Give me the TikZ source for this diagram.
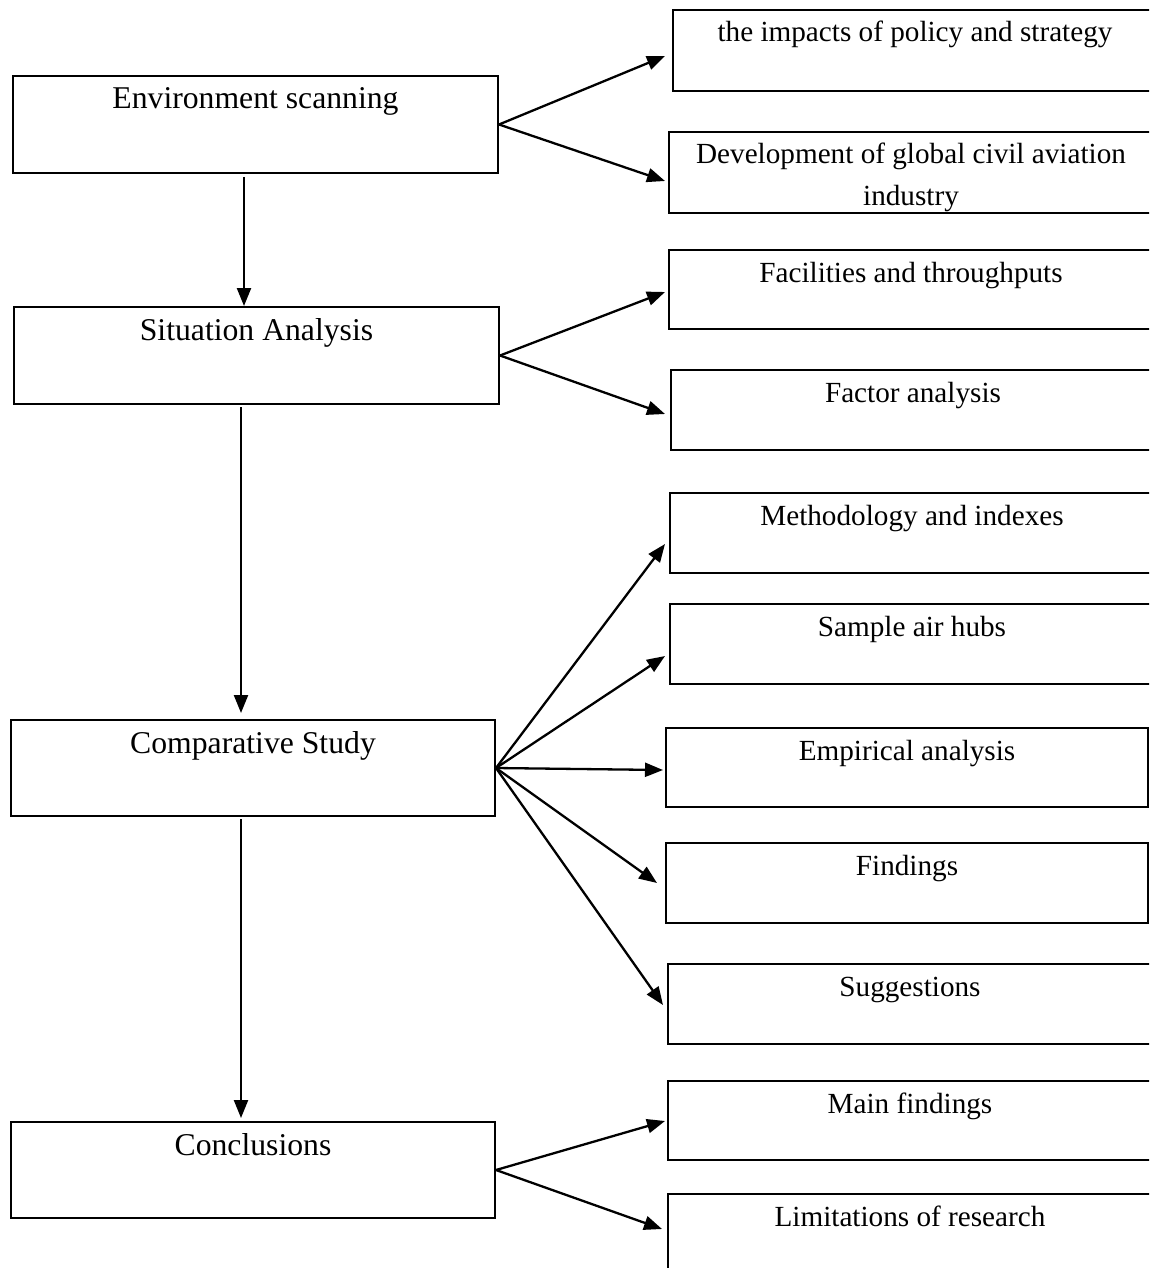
\documentclass[tikz,border=0pt]{standalone}
\usepackage{fontspec}
\setmainfont{Liberation Serif}
\usetikzlibrary{arrows.meta,calc}
\begin{document}
\begin{tikzpicture}[x=1pt,y=-1pt,
  lbox/.style={draw, line width=2pt, inner sep=0pt, anchor=north west,
    minimum width=485pt, text height=33pt, text depth=64pt,
    font=\fontsize{31.7}{38}\selectfont},
  rbox/.style={draw, line width=2pt, inner sep=0pt, anchor=north west,
    minimum width=484pt, text height=32pt, text depth=48pt,
    font=\fontsize{29.2}{42}\selectfont},
  arr/.style={line width=2.3pt, -{Triangle[length=18pt,width=14pt]}}]
\useasboundingbox (0,0) rectangle (1149,1268);
\clip (0,0) rectangle (1149,1268);
\fill[white] (0,0) rectangle (1149,1268);

% left column
\node[lbox] (env) at (12,75) {Environment scanning};
\node[lbox] (sit) at (13,306) {Situation Analysis};
\node[lbox, minimum width=484pt, text depth=63pt] (comp) at (10,719) {Comparative Study};
\node[lbox, minimum width=484pt, text depth=63pt] (conc) at (10,1121) {Conclusions};

% right column
\node[rbox, text depth=49pt] (imp) at (672,9) {the impacts of policy and strategy};
\node[rbox, text depth=49pt] (dev) at (668,131)
  {\parbox[t]{470pt}{\centering\fontsize{29.2}{42}\selectfont Development of global civil aviation\\industry}};
\node[rbox, text depth=47pt] (fac) at (668,249) {Facilities and throughputs};
\node[rbox] (fan) at (670,369) {Factor analysis};
\node[rbox] (meth) at (669,492) {Methodology and indexes};
\node[rbox] (samp) at (669,603) {Sample air hubs};
\node[rbox, minimum width=482pt, text depth=47pt] (emp) at (665,727) {Empirical analysis};
\node[rbox, minimum width=482pt] (find) at (665,842) {Findings};
\node[rbox] (sug) at (667,963) {Suggestions};
\node[rbox, text depth=47pt] (main) at (667,1080) {Main findings};
\node[rbox, text depth=68pt] (lim) at (667,1193) {Limitations of research};

% vertical connectors
\coordinate (v1) at ([xshift=-11.5pt]env.south);
\coordinate (v2) at ([xshift=-15.5pt]sit.south);
\coordinate (v3) at ([xshift=-12pt]comp.south);
\draw[arr, shorten <=3pt] (v1) -- (v1 |- sit.north);
\draw[arr, shorten <=2pt, shorten >=6pt] (v2) -- (v2 |- comp.north);
\draw[arr, shorten <=2pt, shorten >=3pt] (v3) -- (v3 |- conc.north);

% fan connectors
\draw[arr] (env.east) -- ($(imp.west)+(-7,5.5)$);
\draw[arr] (env.east) -- ($(dev.west)+(-3,8.5)$);
\draw[arr] (sit.east) -- ($(fac.west)+(-3,2.5)$);
\draw[arr] (sit.east) -- ($(fan.west)+(-5,4)$);
\draw[arr] (comp.east) -- ($(meth.west)+(-4,11)$);
\draw[arr] (comp.east) -- ($(samp.west)+(-4,12)$);
\draw[arr] (comp.east) -- ($(emp.west)+(-2,2.5)$);
\draw[arr] (comp.east) -- ($(find.west)+(-8,0)$);
\draw[arr] (comp.east) -- ($(sug.west)+(-4,1)$);
\draw[arr] (conc.east) -- ($(main.west)+(-2,0.5)$);
\draw[arr] (conc.east) -- ($(lim.west)+(-5,-15)$);
\end{tikzpicture}
\end{document}
